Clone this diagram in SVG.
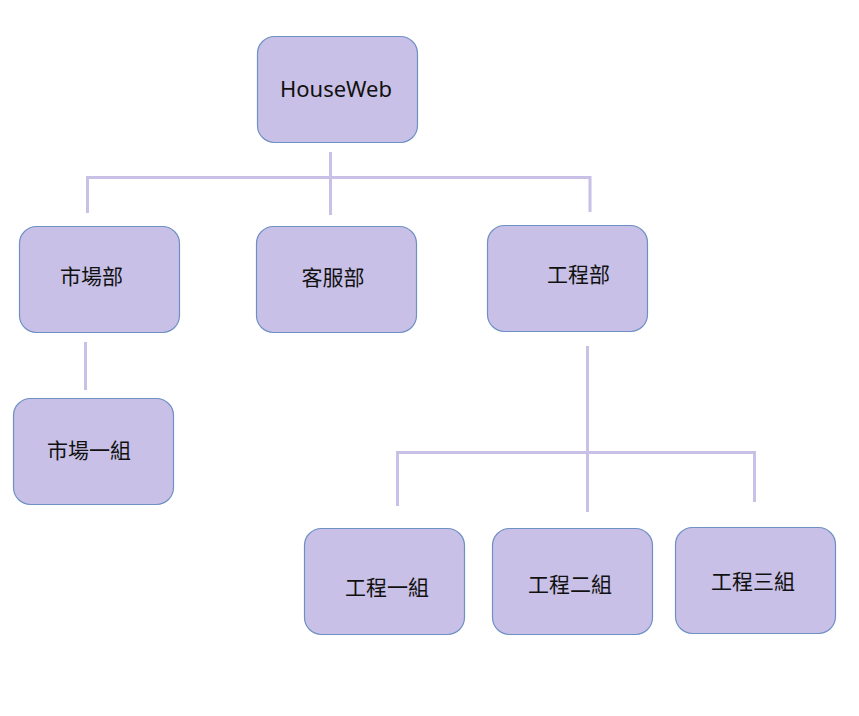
<svg xmlns="http://www.w3.org/2000/svg" width="859" height="716" viewBox="0 0 859 716">
<style>
.box{fill:#c8c0e6;stroke:#6f90c4;stroke-width:1.2}
.ln{stroke:#c8c0e6;stroke-width:3;fill:none;stroke-linecap:butt}
.t{font-family:"Noto Sans CJK TC","Noto Sans",sans-serif;font-size:21px;fill:#111;text-anchor:middle}
.e{font-family:"Noto Sans","Liberation Sans",sans-serif;font-size:22px;fill:#111;text-anchor:middle}
</style>
<rect width="859" height="716" fill="#ffffff"/>
<g id="connectors">
<line class="ln" x1="330.5" y1="152" x2="330.5" y2="215"/>
<polyline class="ln" points="87.5,213 87.5,177.5 590,177.5 590,212"/>
<line class="ln" x1="85.5" y1="342" x2="85.5" y2="390"/>
<line class="ln" x1="587.5" y1="346" x2="587.5" y2="512"/>
<polyline class="ln" points="397.5,506 397.5,452.5 754.5,452.5 754.5,502"/>
</g>
<g id="houseweb"><rect class="box" x="257.5" y="36.5" width="160" height="106" rx="17"/><text class="e" x="336" y="96.7">HouseWeb</text></g>
<g id="market"><rect class="box" x="19.5" y="226.5" width="160" height="106" rx="17"/><text class="t" x="91.5" y="284">市場部</text></g>
<g id="service"><rect class="box" x="256.5" y="226.5" width="160" height="106" rx="17"/><text class="t" x="333" y="285">客服部</text></g>
<g id="engineering"><rect class="box" x="487.5" y="225.5" width="160" height="106" rx="17"/><text class="t" x="578.5" y="282">工程部</text></g>
<g id="market1"><rect class="box" x="13.5" y="398.5" width="160" height="106" rx="17"/><text class="t" x="89" y="458">市場一組</text></g>
<g id="eng1"><rect class="box" x="304.5" y="528.5" width="160" height="106" rx="17"/><text class="t" x="387" y="594.5">工程一組</text></g>
<g id="eng2"><rect class="box" x="492.5" y="528.5" width="160" height="106" rx="17"/><text class="t" x="570" y="591.5">工程二組</text></g>
<g id="eng3"><rect class="box" x="675.5" y="527.5" width="160" height="106" rx="17"/><text class="t" x="753" y="589">工程三組</text></g>
</svg>
